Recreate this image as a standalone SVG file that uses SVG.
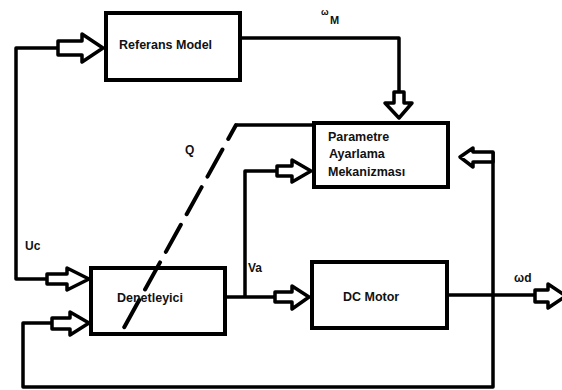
<svg xmlns="http://www.w3.org/2000/svg" width="562" height="390" viewBox="0 0 562 390">
<style>
.box{fill:none;stroke:#000;stroke-width:4}
.ln{fill:none;stroke:#000;stroke-width:3.5;stroke-linejoin:round}
.ar{fill:#fff;stroke:#000;stroke-width:3.5;stroke-linejoin:round}
.dash{fill:none;stroke:#000;stroke-width:4;stroke-linecap:round;stroke-dasharray:31 12;stroke-dashoffset:15}
text{font-family:"Liberation Sans",Arial,sans-serif;font-weight:bold;font-size:12.5px;fill:#111}
.lbl{font-size:12px}
</style>
<rect width="562" height="390" fill="#fff"/>
<g id="connectors">
  <path class="ln" d="M58 48 H16 V279 H47"/>
  <polygon class="ar" points="58,41 82,41 82,34 103,48 82,62 82,55 58,55"/>
  <polygon class="ar" points="47,274 67,274 67,268 89,279 67,290 67,284 47,284"/>
  <path class="ln" d="M52 323 H23 V387 H493 V152"/>
  <polygon class="ar" points="52,318 70,318 70,312 89,323 70,335 70,329 52,329"/>
  <polygon class="ar" points="493,152 473,152 473,148 460,157 473,167 473,162 493,162"/>
  <path class="ln" d="M242 38 H399 V92"/>
  <polygon class="ar" points="394,92 404,92 404,103 412,103 399,118 385,103 394,103"/>
  <path class="ln" d="M237 125 H313"/>
  <path class="dash" d="M236 125 L121 333"/>
  <path class="ln" d="M227 297 H275 M245 297 V171 H277"/>
  <polygon class="ar" points="277,166 292,166 292,160 311,171 292,182 292,176 277,176"/>
  <polygon class="ar" points="275,292 292,292 292,286 309,297 292,309 292,302 275,302"/>
  <path class="ln" d="M448 295 H535"/>
  <polygon class="ar" points="535,290 548,290 548,284 566,296 548,308 548,302 535,302"/>
</g>
<g id="referans">
  <rect class="box" x="106" y="13" width="134" height="67"/>
  <text x="119" y="49">Referans Model</text>
</g>
<g id="parametre">
  <rect class="box" x="314" y="123" width="134" height="64"/>
  <text x="328" y="141">Parametre</text>
  <text x="329" y="158">Ayarlama</text>
  <text x="328" y="176">Mekanizması</text>
</g>
<g id="denetleyici">
  <rect class="box" x="91" y="268" width="134" height="66"/>
  <text x="117" y="302">Denetleyici</text>
</g>
<g id="dcmotor">
  <rect class="box" x="312" y="262" width="135" height="66"/>
  <text x="343" y="301">DC Motor</text>
</g>
<g id="labels">
  <text class="lbl" x="321" y="15" style="font-size:9px">ω</text>
  <text class="lbl" x="330" y="24" style="font-size:11px">M</text>
  <text class="lbl" x="185" y="154">Q</text>
  <text class="lbl" x="25" y="250">Uc</text>
  <text class="lbl" x="248" y="272">Va</text>
  <text class="lbl" x="514" y="282">ωd</text>
</g>
</svg>
